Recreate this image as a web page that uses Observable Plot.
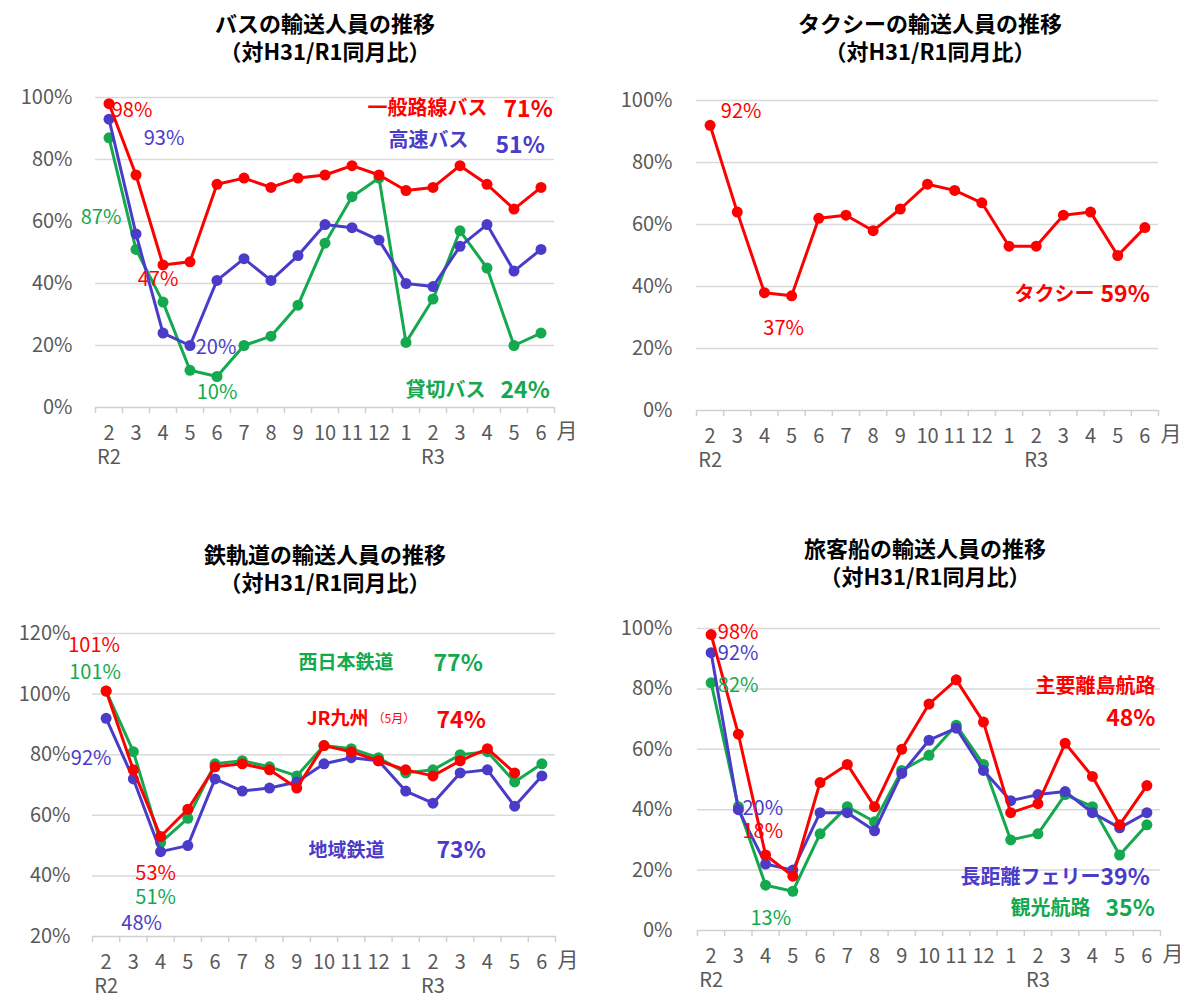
<!DOCTYPE html>
<html><head><meta charset="utf-8">
<script src="https://cdn.jsdelivr.net/npm/d3@7"></script>
<script src="https://cdn.jsdelivr.net/npm/@observablehq/plot@0.6"></script>
<style>
html,body{margin:0;padding:0;background:#fff;}
body{width:1180px;height:995px;position:relative;overflow:hidden;font-family:"Noto Sans CJK JP","Noto Sans",sans-serif;}
.panel{position:absolute;}
.title{position:absolute;width:440px;text-align:center;font-weight:bold;font-size:22px;line-height:28px;color:#000;}
</style></head>
<body>
<script>
// ---- shared categories ----
const months = ["2","3","4","5","6","7","8","9","10","11","12","1","2","3","4","5","6"];
const eraIndex = [0, 12];
const eraNames = ["R2", "R3"];
const ticks100 = [0, 20, 40, 60, 80, 100];
const ticks120 = [20, 40, 60, 80, 100, 120];

// ---- bus ----
const busGeneral = [98, 75, 46, 47, 72, 74, 71, 74, 75, 78, 75, 70, 71, 78, 72, 64, 71];
const busHighway = [93, 56, 24, 20, 41, 48, 41, 49, 59, 58, 54, 40, 39, 52, 59, 44, 51];
const busCharter = [87, 51, 34, 12, 10, 20, 23, 33, 53, 68, 74, 21, 35, 57, 45, 20, 24];

// ---- taxi ----
const taxi = [92, 64, 38, 37, 62, 63, 58, 65, 73, 71, 67, 53, 53, 63, 64, 50, 59];

// ---- rail ----
const railNishitetsu = [101, 81, 51, 59, 77, 78, 76, 73, 83, 82, 79, 74, 75, 80, 81, 71, 77];
const railJR = [101, 75, 53, 62, 76, 77, 75, 69, 83, 81, 78, 75, 73, 78, 82, 74, null];
const railLocal = [92, 72, 48, 50, 72, 68, 69, 71, 77, 79, 78, 68, 64, 74, 75, 63, 73];

// ---- ship ----
const shipIsland = [98, 65, 25, 18, 49, 55, 41, 60, 75, 83, 69, 39, 42, 62, 51, 35, 48];
const shipFerry = [92, 40, 22, 20, 39, 39, 33, 52, 63, 67, 53, 43, 45, 46, 39, 34, 39];
const shipSight = [82, 41, 15, 13, 32, 41, 36, 53, 58, 68, 55, 30, 32, 45, 41, 25, 35];

const RED = "#ff0000", BLUE = "#4a3cc8", GREEN = "#14a94e", GRAY = "#595959";
const FONT = "'Noto Sans CJK JP','Noto Sans',sans-serif";

function seriesMarks(values, color) {
  const rows = values.map((v, i) => ({i, v})).filter(d => d.v != null);
  return [
    Plot.line(rows, {x: "i", y: "v", stroke: color, strokeWidth: 3}),
    Plot.dot(rows, {x: "i", y: "v", r: 5.5, fill: color, stroke: "none"})
  ];
}
function valueLabel(values, i, color, dx, dy) {
  return Plot.text([{i, v: values[i]}], {x: "i", y: "v", text: d => d.v + "%", fill: color,
    fontSize: 20, fontFamily: FONT, dx, dy, textAnchor: "middle", lineAnchor: "middle"});
}
function note(m, str, px, py, color, size, anchor, weight) {
  return Plot.text([str], {frameAnchor: "top-left", dx: px - m.left, dy: py - m.top, text: d => d,
    fill: color, fontSize: size, fontWeight: weight || "bold", fontFamily: FONT,
    textAnchor: anchor, lineAnchor: "middle"});
}

function panel({left, top, width, height, m, yDomain, yTicks, marks, title, tx, ty}) {
  const boundaries = d3.range(-0.5, 17, 1);
  const svg = Plot.plot({
    width, height,
    marginLeft: m.left, marginRight: m.right, marginTop: m.top, marginBottom: m.bottom,
    style: {fontFamily: FONT, color: GRAY, background: "transparent", overflow: "visible"},
    x: {type: "linear", domain: [-0.5, 16.5], label: null},
    y: {domain: yDomain, label: null},
    marks: [
      Plot.gridY(yTicks.slice(1), {stroke: "#d9d9d9", strokeOpacity: 1, strokeWidth: 1.5}),
      Plot.ruleY([yDomain[0]], {stroke: "#d0d0d0", strokeWidth: 1.5}),
      Plot.axisX(boundaries, {tickSize: 6, tickFormat: () => "", stroke: "#d0d0d0", strokeWidth: 1.5, label: null}),
      Plot.axisX(d3.range(17), {tickSize: 0, tickPadding: 18, tickFormat: i => months[i], fontSize: 20, fill: GRAY, label: null}),
      Plot.text(eraIndex, {x: d => d, frameAnchor: "bottom", dy: 50, text: (d, k) => eraNames[k],
        fontSize: 20, fill: GRAY, lineAnchor: "middle", textAnchor: "middle"}),
      Plot.text(["月"], {frameAnchor: "bottom-right", dx: 2, dy: 24, text: d => d, textAnchor: "start",
        lineAnchor: "middle", fontSize: 21, fill: GRAY}),
      Plot.axisY(yTicks, {tickSize: 0, tickPadding: m.pad, tickFormat: d => d + "%", fontSize: 20, fill: GRAY, label: null}),
      ...marks
    ]
  });
  const div = document.createElement("div");
  div.className = "panel";
  div.style.left = left + "px";
  div.style.top = top + "px";
  div.appendChild(svg);
  document.body.appendChild(div);
  const t = document.createElement("div");
  t.className = "title";
  t.style.left = (tx - 220) + "px";
  t.style.top = ty + "px";
  t.innerHTML = title.join("<br>");
  document.body.appendChild(t);
}

// Panel 1: bus
const m1 = {left: 95, right: 36, top: 27, bottom: 73, pad: 23};
panel({left: 0, top: 70, width: 590, height: 410, m: m1, yDomain: [0, 100], yTicks: ticks100,
  title: ["バスの輸送人員の推移", "（対H31/R1同月比）"], tx: 325, ty: 8,
  marks: [
    ...seriesMarks(busCharter, GREEN), ...seriesMarks(busHighway, BLUE), ...seriesMarks(busGeneral, RED),
    valueLabel(busGeneral, 0, RED, 23, 7),
    valueLabel(busHighway, 0, BLUE, 55, 19),
    valueLabel(busCharter, 0, GREEN, -8, 80),
    valueLabel(busGeneral, 3, RED, -32, 18),
    valueLabel(busHighway, 3, BLUE, 26, 2),
    valueLabel(busCharter, 4, GREEN, 0, 16),
    note(m1, "一般路線バス", 487, 38, RED, 20, "end"),
    note(m1, busGeneral[16] + "%", 503, 39, RED, 23, "start"),
    note(m1, "高速バス", 468, 70, BLUE, 20, "end"),
    note(m1, busHighway[16] + "%", 495, 75, BLUE, 23, "start"),
    note(m1, "貸切バス", 485, 320, GREEN, 20, "end"),
    note(m1, busCharter[16] + "%", 500, 320, GREEN, 23, "start")
  ]});

// Panel 2: taxi
const m2 = {left: 106, right: 22, top: 30, bottom: 80, pad: 24};
panel({left: 590, top: 70, width: 590, height: 420, m: m2, yDomain: [0, 100], yTicks: ticks100,
  title: ["タクシーの輸送人員の推移", "（対H31/R1同月比）"], tx: 930, ty: 8,
  marks: [
    ...seriesMarks(taxi, RED),
    valueLabel(taxi, 0, RED, 31, -14),
    valueLabel(taxi, 3, RED, -8, 33),
    note(m2, "タクシー", 504, 224, RED, 20, "end"),
    note(m2, taxi[16] + "%", 510, 224, RED, 23, "start")
  ]});

// Panel 3: rail
const m3 = {left: 92, right: 35, top: 33, bottom: 59, pad: 22};
panel({left: 0, top: 600, width: 590, height: 395, m: m3, yDomain: [20, 120], yTicks: ticks120,
  title: ["鉄軌道の輸送人員の推移", "（対H31/R1同月比）"], tx: 325, ty: 539,
  marks: [
    ...seriesMarks(railNishitetsu, GREEN), ...seriesMarks(railLocal, BLUE), ...seriesMarks(railJR, RED),
    valueLabel(railJR, 0, RED, -12, -45),
    valueLabel(railNishitetsu, 0, GREEN, -11, -18),
    valueLabel(railLocal, 0, BLUE, -15, 40),
    valueLabel(railJR, 2, RED, -5, 37),
    valueLabel(railNishitetsu, 2, GREEN, -5, 55),
    valueLabel(railLocal, 2, BLUE, -19, 72),
    note(m3, "西日本鉄道", 393, 62, GREEN, 19, "end"),
    note(m3, railNishitetsu[16] + "%", 433, 63, GREEN, 23, "start"),
    note(m3, "JR九州", 368, 118, RED, 19, "end"),
    note(m3, "（5月）", 372, 119, RED, 12, "start", "normal"),
    note(m3, railJR[15] + "%", 436, 120, RED, 23, "start"),
    note(m3, "地域鉄道", 384, 250, BLUE, 19, "end"),
    note(m3, railLocal[16] + "%", 436, 250, BLUE, 23, "start")
  ]});

// Panel 4: ship
const m4 = {left: 107, right: 20, top: 28, bottom: 65, pad: 25};
panel({left: 590, top: 600, width: 590, height: 395, m: m4, yDomain: [0, 100], yTicks: ticks100,
  title: ["旅客船の輸送人員の推移", "（対H31/R1同月比）"], tx: 925, ty: 533,
  marks: [
    ...seriesMarks(shipSight, GREEN), ...seriesMarks(shipFerry, BLUE), ...seriesMarks(shipIsland, RED),
    valueLabel(shipIsland, 0, RED, 27, -2),
    valueLabel(shipFerry, 0, BLUE, 27, 1),
    valueLabel(shipSight, 0, GREEN, 27, 3),
    valueLabel(shipFerry, 3, BLUE, -30, -62),
    valueLabel(shipIsland, 3, RED, -30, -45),
    valueLabel(shipSight, 3, GREEN, -22, 27),
    note(m4, "主要離島航路", 565, 86, RED, 20, "end"),
    note(m4, shipIsland[16] + "%", 565, 118, RED, 23, "end"),
    note(m4, "長距離フェリー", 510, 277, BLUE, 20, "end"),
    note(m4, shipFerry[16] + "%", 510, 277, BLUE, 23, "start"),
    note(m4, "観光航路", 500, 308, GREEN, 20, "end"),
    note(m4, shipSight[16] + "%", 515, 308, GREEN, 23, "start")
  ]});
</script>
</body></html>
